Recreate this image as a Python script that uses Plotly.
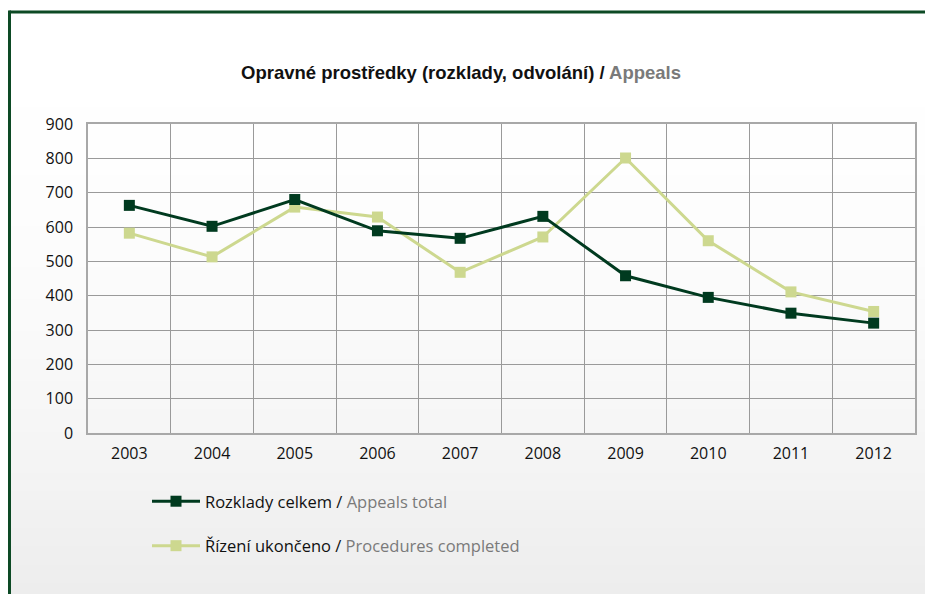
import base64
import struct
import zlib

import plotly.graph_objects as go

years = ["2003", "2004", "2005", "2006", "2007", "2008", "2009", "2010", "2011", "2012"]
appeals_total = [663, 602, 680, 589, 567, 631, 458, 395, 349, 320]
procedures_completed = [582, 513, 658, 629, 468, 571, 801, 560, 411, 354]
y_ticks = [0, 100, 200, 300, 400, 500, 600, 700, 800, 900]

dark = "#003a1f"
light = "#cdd88f"
frame_green = "#0d4a25"

# page offset of the figure inside the browser (body margin)
OFF = 8
W, H = 925, 586
ml, mr, mt, mb = 80, 18, 116, 161


def px(x):
    return (x - OFF - ml) / (W - ml - mr)


def py(y):
    return (H - mb - (y - OFF)) / (H - mt - mb)


def gradient_png(n=128):
    rows = b""
    for i in range(n):
        t = i / (n - 1)
        c = int(round(255 - 18 * t ** 2))
        rows += b"\x00" + bytes([c])

    def chunk(tag, data):
        return (struct.pack(">I", len(data)) + tag + data
                + struct.pack(">I", zlib.crc32(tag + data) & 0xffffffff))

    png = b"\x89PNG\r\n\x1a\n"
    png += chunk(b"IHDR", struct.pack(">IIBBBBB", 1, n, 8, 0, 0, 0, 0))
    png += chunk(b"IDAT", zlib.compress(rows))
    png += chunk(b"IEND", b"")
    return "data:image/png;base64," + base64.b64encode(png).decode()


fig = go.Figure()
fig.add_trace(go.Scatter(
    x=years, y=procedures_completed, mode="lines+markers",
    name="Řízení ukončeno / <span style='color:#7a7a7a'>Procedures completed</span>",
    line=dict(color=light, width=3), marker=dict(symbol="square", size=11, color=light),
    legendgroup="b", legendrank=2))
fig.add_trace(go.Scatter(
    x=years, y=appeals_total, mode="lines+markers",
    name="Rozklady celkem / <span style='color:#7a7a7a'>Appeals total</span>",
    line=dict(color=dark, width=3), marker=dict(symbol="square", size=11, color=dark),
    legendgroup="a", legendrank=1))

fig.add_layout_image(dict(
    source=gradient_png(), xref="paper", yref="paper",
    x=px(OFF), y=py(OFF), sizex=px(OFF + W) - px(OFF), sizey=py(OFF) - py(OFF + H),
    xanchor="left", yanchor="top", sizing="stretch", layer="below"))

shapes = [
    dict(type="line", xref="paper", yref="paper", x0=px(9.5), x1=px(OFF + W + 5),
         y0=py(12), y1=py(12), line=dict(color=frame_green, width=3)),
    dict(type="line", xref="paper", yref="paper", x0=px(9.5), x1=px(9.5),
         y0=py(10.5), y1=py(OFF + H + 5), line=dict(color=frame_green, width=3)),
]

fig.update_layout(
    width=W, height=H,
    margin=dict(l=ml, r=mr, t=mt, b=mb),
    paper_bgcolor="white",
    plot_bgcolor="rgba(0,0,0,0)",
    shapes=shapes,
    title=dict(
        text="<b>Opravné prostředky (rozklady, odvolání) / <span style='color:#7a7a7a'>Appeals</span></b>",
        x=(461 - OFF) / W, xanchor="center", xref="container",
        y=1 - (73 - OFF) / H, yanchor="middle", yref="container",
        font=dict(family="Liberation Sans Narrow, Liberation Sans, Arial", size=18.5, color="#111")),
    font=dict(family="Open Sans, Noto Sans, sans-serif", size=16, color="#111"),
    showlegend=True,
    legend=dict(
        x=px(147), y=py(484), xanchor="left", yanchor="top",
        orientation="v", traceorder="grouped", tracegroupgap=20, itemwidth=48,
        font=dict(family="Open Sans, Noto Sans, sans-serif", size=16.5, color="#111"),
        bgcolor="rgba(0,0,0,0)"),
)
fig.update_xaxes(
    type="category", range=[-0.5, 9.5], tickson="boundaries", showgrid=True,
    gridcolor="#9a9a9a", gridwidth=1,
    showline=True, linecolor="#a8a8a8", linewidth=1.5, mirror=True,
    ticks="", tickfont=dict(size=16), ticklabelstandoff=5)
fig.update_yaxes(
    range=[0, 900], tickvals=y_ticks, showgrid=True, gridcolor="#9a9a9a", gridwidth=1,
    showline=True, linecolor="#a8a8a8", linewidth=1.5, mirror=True, zeroline=False,
    ticks="", tickfont=dict(size=16), ticklabelstandoff=10)

fig.write_html("out.html")
